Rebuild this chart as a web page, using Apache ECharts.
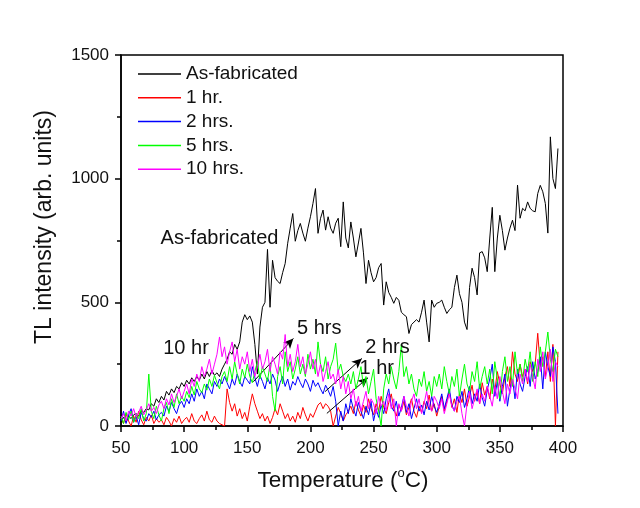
<!DOCTYPE html>
<html>
<head>
<meta charset="utf-8">
<script src="https://cdn.jsdelivr.net/npm/echarts@6/dist/echarts.min.js"></script>
<style>
  html, body { margin: 0; padding: 0; background: #fff; }
  #graficas { width: 640px; height: 508px; }
</style>
</head>
<body>
<div id="graficas"></div>
<script>
// temperature grid (°C)
const temps = [50,52,54,56,58,60,62,64,66,68,70,72,74,76,78,80,82,84,86,88,90,92,94,96,98,
  100,102,104,106,108,110,112,114,116,118,120,122,124,126,128,130,132,134,136,138,140,142,144,146,148,
  150,152,154,156,158,160,162,164,166,168,170,172,174,176,178,180,182,184,186,188,190,192,194,196,198,
  200,202,204,206,208,210,212,214,216,218,220,222,224,226,228,230,232,234,236,238,240,242,244,246,248,
  250,252,254,256,258,260,262,264,266,268,270,272,274,276,278,280,282,284,286,288,290,292,294,296,298,
  300,302,304,306,308,310,312,314,316,318,320,322,324,326,328,330,332,334,336,338,340,342,344,346,348,
  350,352,354,356,358,360,362,364,366,368,370,372,374,376,378,380,382,384,386,388,390,392,394,396];

const asFab = [20,35,15,40,30,45,50,40,60,55,70,65,90,80,110,95,120,105,140,125,150,135,160,150,175,
  160,185,170,195,180,200,185,210,190,220,200,225,205,215,200,230,250,270,300,290,330,310,340,420,450,
  430,445,420,330,210,400,480,500,714,480,670,600,585,576,620,657,739,800,859,747,790,819,780,747,800,
  846,900,960,779,840,873,792,846,800,779,820,840,725,906,760,720,825,760,684,740,799,700,576,670,620,
  583,600,640,657,489,583,540,520,496,520,508,460,450,442,374,410,420,430,420,460,509,420,340,509,480,
  496,500,509,480,455,470,480,560,610,535,500,420,390,560,638,600,530,700,705,680,624,760,884,624,760,
  852,790,711,760,800,832,790,974,840,880,870,906,880,870,866,940,973,947,900,780,1169,1000,960,1122];

const hr1 = [30,10,50,20,0,40,15,60,25,5,35,20,45,10,30,15,
  25,5,35,20,0,30,15,40,10,25,35,15,50,20,10,30,45,20,60,25,15,40,20,10,5,
  0,150,95,
  60,90,40,70,30,55,20,80,130,90,60,30,50,20,40,10,35,70,45,90,60,30,50,20,40,15,55,30,75,45,
  20,50,35,60,85,95,70,90,80,60,0,40,75,50,20,45,60,
  80,50,100,65,40,85,55,110,70,45,90,60,120,75,50,95,130,70,40,85,60,100,45,75,110,60,35,80,55,100,
  70,125,60,90,40,
  80,120,60,100,140,75,110,55,130,95,150,80,120,165,100,140,90,175,125,160,
  110,190,140,220,170,130,200,240,160,300,210,180,250,200,230,
  170,260,220,250,375,240,280,200,300,180,330,0,300];

const hr2 = [20,60,10,45,70,15,40,5,55,30,20,50,35,60,25,45,
  55,40,80,60,95,70,50,85,100,75,
  110,90,130,100,150,120,140,110,170,150,130,180,160,190,170,
  200,175,150,190,165,210,180,160,200,185,170,240,195,160,205,180,150,195,170,210,
  185,140,175,200,160,190,145,180,165,200,175,155,190,170,140,185,160,175,150,130,165,145,120,160,100,
  0,60,20,90,50,110,70,40,95,60,30,80,45,100,20,70,35,85,50,110,
  150,80,60,100,40,75,120,55,90,30,70,110,60,85,45,100,65,120,80,55,
  90,130,70,110,150,85,60,120,95,140,75,110,160,90,130,100,170,115,80,145,
  190,250,120,180,100,160,210,80,150,190,110,230,170,140,200,
  240,160,260,190,220,280,150,300,240,200,320,260,50];

const hr5 = [40,10,55,25,60,15,45,30,70,20,50,
  210,
  60,30,80,45,20,70,95,50,110,75,130,90,120,100,
  140,115,160,125,180,150,135,170,145,190,160,205,175,150,200,220,180,
  240,190,260,210,170,230,195,250,200,175,220,260,190,240,210,180,250,120,60,200,
  240,170,300,220,260,190,230,280,210,250,200,290,230,270,210,340,250,220,280,190,
  240,270,335,220,250,200,180,210,
  170,220,150,190,240,160,200,130,180,230,110,60,0,150,210,170,240,190,150,220,
  330,200,240,170,210,150,120,190,160,220,140,180,120,200,160,
  210,150,240,180,130,200,160,230,120,190,250,170,140,220,180,260,150,200,240,170,
  230,130,260,190,110,220,280,180,240,160,300,210,250,180,270,
  220,300,180,260,200,320,240,300,380,270,220,310,280];

const hr10 = [30,50,20,60,40,70,35,55,80,45,65,90,60,75,50,85,
  100,70,110,85,130,95,120,150,110,140,
  170,130,190,160,210,180,240,200,230,270,210,250,
  290,360,280,320,250,300,340,260,310,230,280,
  250,300,220,270,200,240,290,230,260,310,220,280,250,210,300,270,370,240,290,220,260,330,240,280,210,250,300,
  230,270,200,250,180,220,260,190,210,170,230,150,200,130,180,
  110,150,80,120,60,100,140,70,110,90,50,120,80,100,60,
  130,70,110,0,90,60,120,80,40,100,130,70,110,50,90,140,80,60,120,100,
  70,110,50,90,130,80,60,100,120,50,0,90,140,70,110,150,90,130,100,160,
  120,80,160,110,200,140,90,170,130,190,150,110,210,170,230,
  180,250,200,150,270,220,300,190,240,310,180,260,240];

const seriesNames = ["As-fabricated", "1 hr.", "2 hrs.", "5 hrs.", "10 hrs."];
const seriesColors = ["#000000", "#ff0000", "#0000ff", "#00ff00", "#ff00ff"];
const seriesValues = [asFab, hr1, hr2, hr5, hr10];

const xTicks = [50, 100, 150, 200, 250, 300, 350, 400];
const yTicks = [0, 500, 1000, 1500];

// annotations (data coordinates)
const annoText = ["As-fabricated", "10 hr", "5 hrs", "2 hrs", "1 hr"];
const annoX = [128, 101.5, 207, 261, 252.5];
const annoY = [757, 313, 394, 319, 232];
const arrowFrom = [[154.8, 179], [211.6, 139], [213, 51]];
const arrowTo = [[186.5, 354], [240.7, 273], [245.5, 195]];

const font = "Liberation Sans, Arial, sans-serif";

const buildSeries = () => seriesNames.map((name, k) => {
  const s = {
    name: name,
    type: "line",
    data: temps.map((t, i) => [t, seriesValues[k][i]]),
    symbol: "none",
    lineStyle: { color: seriesColors[k], width: 1 },
    itemStyle: { color: seriesColors[k] },
    animation: false,
    z: 2 + k
  };
  if (k === 0) {
    s.markLine = {
      silent: true,
      symbol: ["none", "arrow"],
      symbolSize: [7, 10],
      label: { show: false },
      lineStyle: { color: "#000", width: 1, type: "solid" },
      data: arrowFrom.map((p, i) => [{ coord: p }, { coord: arrowTo[i] }])
    };
  }
  return s;
});

const chart = echarts.init(document.querySelector("#graficas"));
chart.setOption({
  backgroundColor: "#fff",
  animation: false,
  grid: { left: 121, right: 77, top: 55, bottom: 82, show: true, borderColor: "#000", borderWidth: 1.5 },
  legend: {
    orient: "vertical",
    left: 138,
    top: 64,
    padding: 0,
    icon: "rect",
    itemWidth: 43,
    itemHeight: 1.5,
    itemGap: 3.8,
    textStyle: { fontFamily: font, fontSize: 19, color: "#111", lineHeight: 20 },
    data: seriesNames
  },
  xAxis: {
    type: "value",
    min: xTicks[0],
    max: xTicks[xTicks.length - 1],
    interval: 50,
    axisLine: { lineStyle: { color: "#000", width: 1.5 } },
    axisTick: { inside: false, length: 6, lineStyle: { color: "#000", width: 1.5 } },
    minorTick: { show: true, splitNumber: 2, length: 4, lineStyle: { color: "#000", width: 1.5 } },
    splitLine: { show: false },
    axisLabel: { fontFamily: font, fontSize: 17, color: "#111", margin: 14 }
  },
  yAxis: {
    type: "value",
    min: yTicks[0],
    max: yTicks[yTicks.length - 1],
    interval: 500,
    axisLine: { show: true, lineStyle: { color: "#000", width: 1.5 } },
    axisTick: { show: true, inside: false, length: 6, lineStyle: { color: "#000", width: 1.5 } },
    minorTick: { show: true, splitNumber: 2, length: 4, lineStyle: { color: "#000", width: 1.5 } },
    splitLine: { show: false },
    axisLabel: { fontFamily: font, fontSize: 17, color: "#111", margin: 12, formatter: (v) => String(v) }
  },
  series: buildSeries()
});

// axis titles and annotation labels
const graphics = [
  {
    type: "text",
    x: 343, y: 481,
    style: {
      text: "Temperature ({sup|o}C)",
      fill: "#111",
      font: "22.5px " + font,
      align: "center",
      verticalAlign: "middle",
      rich: { sup: { fontSize: 13, fontFamily: font, fill: "#111", padding: [0, 0, 16, 0] } }
    }
  },
  {
    type: "text",
    x: 45, y: 227,
    rotation: Math.PI / 2,
    style: {
      text: "TL intensity (arb. units)",
      fill: "#111",
      font: "23px " + font,
      align: "center",
      verticalAlign: "middle"
    }
  }
];
annoText.forEach((t, i) => {
  const p = chart.convertToPixel({ gridIndex: 0 }, [annoX[i], annoY[i]]);
  graphics.push({
    type: "text",
    x: p[0], y: p[1],
    z: 20,
    style: { text: t, fill: "#111", font: "20px " + font, align: "center", verticalAlign: "middle" }
  });
});
chart.setOption({ graphic: graphics });
</script>
</body>
</html>
